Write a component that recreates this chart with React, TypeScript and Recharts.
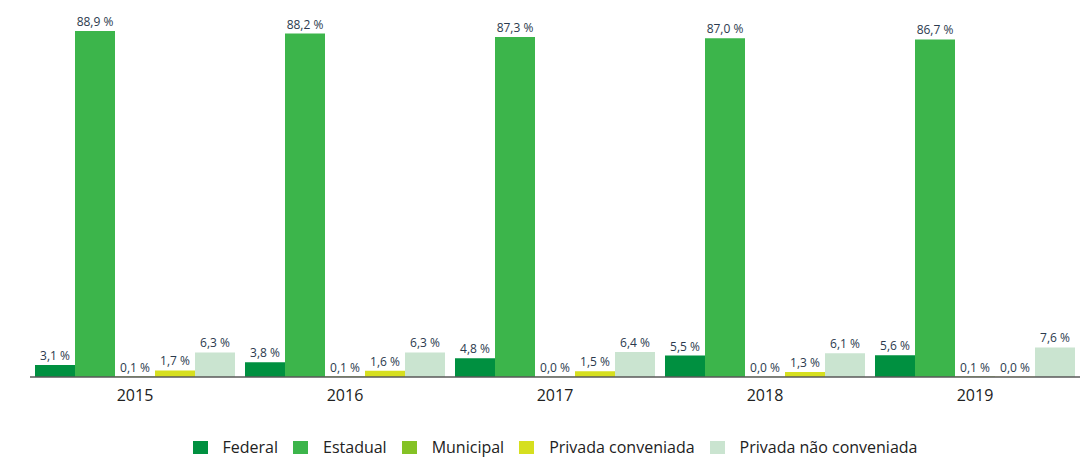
import React from "react";
import { BarChart, Bar, XAxis, YAxis, Legend, LabelList } from "recharts";

const years = ["2015", "2016", "2017", "2018", "2019"];
const federal = [3.1, 3.8, 4.8, 5.5, 5.6];
const estadual = [88.9, 88.2, 87.3, 87.0, 86.7];
const municipal = [0.1, 0.1, 0.0, 0.0, 0.1];
const privadaConveniada = [1.7, 1.6, 1.5, 1.3, 0.0];
const privadaNaoConveniada = [6.3, 6.3, 6.4, 6.1, 7.6];

const seriesNames = ["Federal", "Estadual", "Municipal", "Privada conveniada", "Privada não conveniada"];
const seriesKeys = ["federal", "estadual", "municipal", "pc", "pnc"];
const seriesColors = ["#009040", "#3cb54b", "#84c225", "#d6df1f", "#cae4d0"];
const seriesValues = [federal, estadual, municipal, privadaConveniada, privadaNaoConveniada];

const data = years.map((y, i) => {
  const row: any = { year: y };
  seriesKeys.forEach((k, j) => (row[k] = seriesValues[j][i]));
  return row;
});

const FONT = "'Open Sans', sans-serif";

const fmt = (v: any) => `${Number(v).toFixed(1).replace(".", ",")} %`;

const renderLabel = (props: any) => {
  const { x, y, width, value } = props;
  return (
    <text x={Number(x) + Number(width) / 2} y={Number(y) - 5} textAnchor="middle" fill="#2b3a4e" fontSize={12} fontFamily={FONT}>
      {fmt(value)}
    </text>
  );
};

const LegendContent = () => (
  <div style={{ height: 50, paddingTop: 30, boxSizing: "border-box", display: "flex", justifyContent: "center", fontFamily: FONT, fontSize: 16, color: "#222", lineHeight: "18px" }}>
    {seriesNames.map((n, i) => (
      <div key={n} style={{ display: "flex", alignItems: "center", marginRight: i < seriesNames.length - 1 ? 15 : 0 }}>
        <span style={{ width: 15, height: 13, background: seriesColors[i], display: "inline-block", marginRight: 15 }} />
        <span>{n}</span>
      </div>
    ))}
  </div>
);

export default function App() {
  return (
    <div style={{ position: "absolute", left: 0, top: 0, width: 1088, height: 457, background: "#fff" }}>
      <BarChart width={1088} height={457} data={data} margin={{ top: 27, right: 8, bottom: 0, left: 30 }} barCategoryGap={5} barGap={0}>
        <XAxis dataKey="year" axisLine={{ stroke: "#595959", strokeWidth: 1.5 }} tickLine={false} height={30} dy={5} tick={{ fill: "#222", fontSize: 16, fontFamily: FONT }} />
        <YAxis hide domain={[0, 89.9]} />
        <Legend verticalAlign="bottom" content={<LegendContent />} />
        {seriesKeys.map((k, i) => (
          <Bar key={k} dataKey={k} name={seriesNames[i]} fill={seriesColors[i]} minPointSize={0.3} isAnimationActive={false}>
            <LabelList dataKey={k} content={renderLabel} />
          </Bar>
        ))}
      </BarChart>
    </div>
  );
}
